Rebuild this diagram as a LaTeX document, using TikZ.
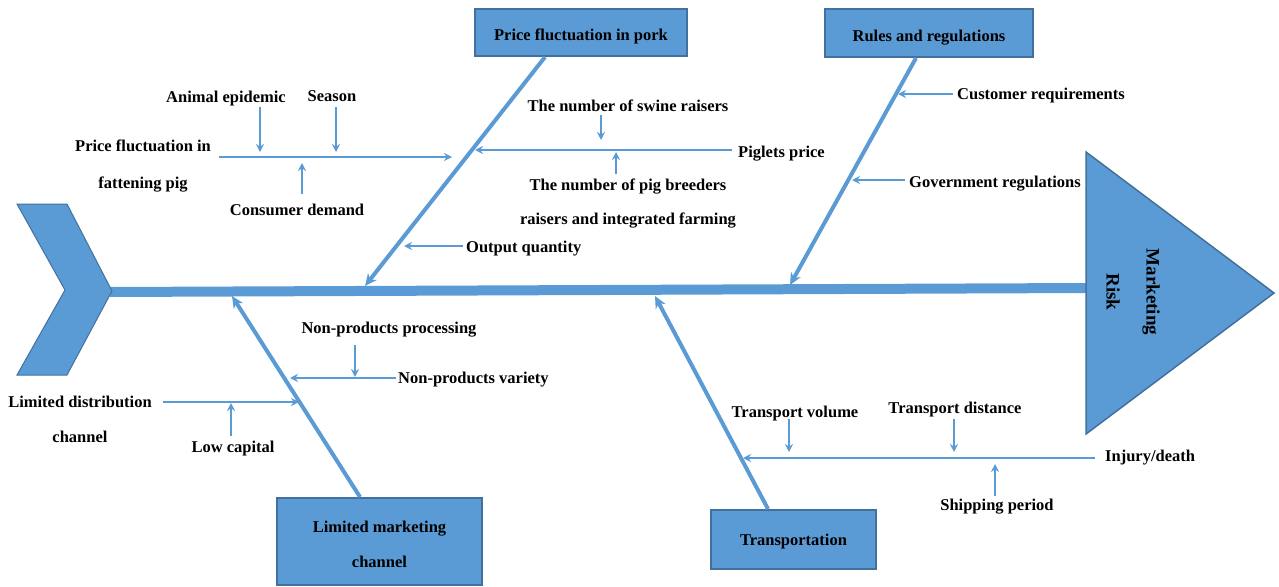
\documentclass[tikz,border=0pt]{standalone}
\usepackage{fontspec}
\setmainfont{Liberation Serif}
\usetikzlibrary{arrows.meta}
\definecolor{fishblue}{HTML}{5B9BD5}
\definecolor{fishedge}{HTML}{41719C}
\begin{document}
\begin{tikzpicture}[x=1pt,y=-1pt,
 lbl/.style={font=\bfseries\fontsize{16.5}{20}\selectfont, inner sep=0pt, text=black, yshift=-2.5pt},
 catbox/.style={draw=fishedge, line width=1.5pt, fill=fishblue, font=\bfseries\fontsize{16.5}{20}\selectfont, inner sep=0pt, align=center},
 bone/.style={draw=fishblue, line width=4pt, -{Stealth[length=12pt,width=11pt]}},
 twig/.style={draw=fishblue, line width=2pt, -{Stealth[length=8pt,width=8pt]}},
]
\useasboundingbox (0,0) rectangle (1279,586);

% spine
\coordinate (tailtip) at (110,292);
\coordinate (headbase) at (1088,288);
\draw[fishblue, line width=10pt] (tailtip) -- (headbase);

% tail
\draw[draw=fishedge, fill=fishblue, line width=1pt] (17,204) -- (67,204) -- (112,291) -- (67,375) -- (17,375) -- (65,290) -- cycle;

% head
\draw[draw=fishedge, fill=fishblue, line width=1.5pt] (1086,152) -- (1274,293) -- (1086,434) -- cycle;
\node[inner sep=0pt, rotate=-90, align=center, font=\bfseries\fontsize{19}{40}\selectfont] (risk) at (1133,292) {Marketing\\Risk};

% category boxes
\node[catbox, minimum width=212pt, minimum height=47pt, text height=17pt, text depth=0pt] (pork) at (581,32.5) {Price fluctuation in pork};
\node[catbox, minimum width=208pt, minimum height=48pt, text height=17pt, text depth=0pt] (rules) at (929,33) {Rules and regulations};
\node[catbox, minimum width=205pt, minimum height=87pt, font=\bfseries\fontsize{16.5}{35}\selectfont] (lmc) at (379.5,541.5) {\rule{0pt}{16.5pt}Limited marketing\\channel};
\node[catbox, minimum width=165pt, minimum height=59pt, text height=12.5pt, text depth=0pt] (trans) at (793.5,539.5) {Transportation};

% bones
\coordinate (b1s) at (545,57);  \coordinate (b1e) at (365,286);
\coordinate (b2s) at (916,58);  \coordinate (b2e) at (790,285);
\coordinate (b3s) at (360,497); \coordinate (b3e) at (232,296);
\coordinate (b4s) at (768,509); \coordinate (b4e) at (655,296);
\draw[bone] (b1s) -- (b1e);
\draw[bone] (b2s) -- (b2e);
\draw[bone] (b3s) -- (b3e);
\draw[bone] (b4s) -- (b4e);

% ---- top-left twigs
\node[lbl, align=center, font=\bfseries\fontsize{16.5}{37}\selectfont] (pf) at (143,163.5) {Price fluctuation in\\fattening pig};
\coordinate (pfs) at (219,157); \coordinate (pfe) at (452,157);
\draw[twig] (pfs) -- (pfe);
\node[lbl] (ae) at (226,96) {Animal epidemic};
\node[lbl] (season) at (332,93.5) {Season};
\coordinate (aes) at (260,107); \coordinate (aee) at (260,152);
\coordinate (ses) at (336,107); \coordinate (see) at (336,152);
\draw[twig] (aes) -- (aee);
\draw[twig] (ses) -- (see);
\node[lbl] (cd) at (297,207.5) {Consumer demand};
\coordinate (cds) at (302,194); \coordinate (cde) at (302,163);
\draw[twig] (cds) -- (cde);

\node[lbl, anchor=west] (pp) at (738,151) {Piglets price};
\coordinate (pps) at (732,150); \coordinate (ppe) at (475,150);
\draw[twig] (pps) -- (ppe);
\node[lbl] (sw) at (628,103) {The number of swine raisers};
\coordinate (sws) at (601,115); \coordinate (swe) at (601,140);
\draw[twig] (sws) -- (swe);
\node[lbl, align=center, font=\bfseries\fontsize{16.5}{34}\selectfont] (pb) at (628,201) {The number of pig breeders\\raisers and integrated farming};
\coordinate (pbs) at (616,174); \coordinate (pbe) at (616,152);
\draw[twig] (pbs) -- (pbe);
\node[lbl, anchor=west] (oq) at (466,246) {Output quantity};
\coordinate (oqs) at (463,246); \coordinate (oqe) at (404,246);
\draw[twig] (oqs) -- (oqe);

% ---- top-right twigs
\node[lbl, anchor=west] (cr) at (957,93) {Customer requirements};
\coordinate (crs) at (953,94); \coordinate (cre) at (898,94);
\draw[twig] (crs) -- (cre);
\node[lbl, anchor=west] (gr) at (909,181) {Government regulations};
\coordinate (grs) at (905,180); \coordinate (gre) at (852,180);
\draw[twig] (grs) -- (gre);

% ---- bottom-left twigs
\node[lbl] (npp) at (389,327) {Non-products processing};
\coordinate (npps) at (355,345); \coordinate (nppe) at (355,377);
\draw[twig] (npps) -- (nppe);
\node[lbl, anchor=west] (npv) at (398,377) {Non-products variety};
\coordinate (npvs) at (396,378); \coordinate (npve) at (290,378);
\draw[twig] (npvs) -- (npve);
\node[lbl, align=center, font=\bfseries\fontsize{16.5}{35}\selectfont] (ld) at (80,417) {Limited distribution\\channel};
\coordinate (lds) at (163,402); \coordinate (lde) at (299,402);
\draw[twig] (lds) -- (lde);
\node[lbl] (lc) at (233,446) {Low capital};
\coordinate (lcs) at (231,436); \coordinate (lce) at (231,403);
\draw[twig] (lcs) -- (lce);

% ---- bottom-right twigs
\node[lbl, anchor=west] (inj) at (1105,455) {Injury/death};
\coordinate (injs) at (1095,458); \coordinate (inje) at (743,458);
\draw[twig] (injs) -- (inje);
\node[lbl] (tv) at (795,411) {Transport volume};
\coordinate (tvs) at (789,419); \coordinate (tve) at (789,452);
\draw[twig] (tvs) -- (tve);
\node[lbl] (td) at (955,407) {Transport distance};
\coordinate (tds) at (954,419); \coordinate (tde) at (954,452);
\draw[twig] (tds) -- (tde);
\node[lbl] (sp) at (997,504) {Shipping period};
\coordinate (sps) at (995,496); \coordinate (spe) at (995,464);
\draw[twig] (sps) -- (spe);
\end{tikzpicture}
\end{document}
